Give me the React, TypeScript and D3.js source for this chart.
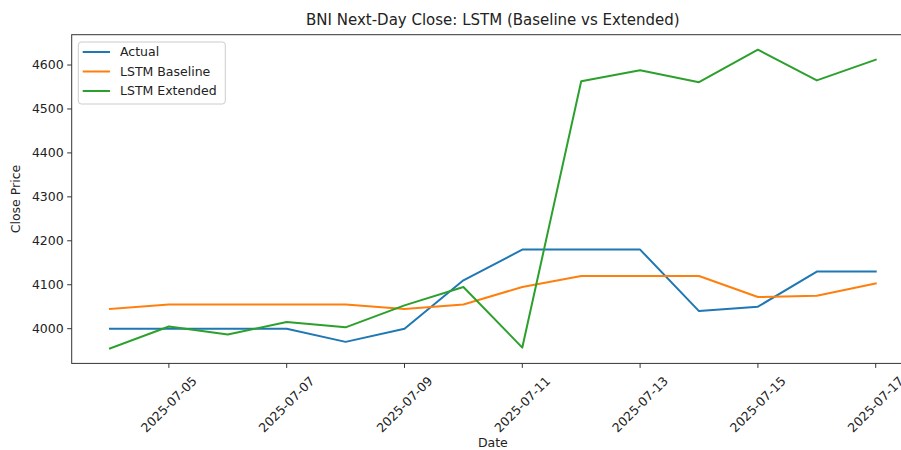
import React from "react";
import * as d3 from "d3";

const dates = [
  "2025-07-04", "2025-07-05", "2025-07-06", "2025-07-07", "2025-07-08", "2025-07-09", "2025-07-10",
  "2025-07-11", "2025-07-12", "2025-07-13", "2025-07-14", "2025-07-15", "2025-07-16", "2025-07-17",
];
const actual = [4000, 4000, 4000, 4000, 3970, 4000, 4110, 4180, 4180, 4180, 4040, 4050, 4130, 4130];
const baseline = [4045, 4055, 4055, 4055, 4055, 4045, 4055, 4095, 4120, 4120, 4120, 4072, 4075, 4103];
const extended = [3955, 4005, 3987, 4015, 4003, 4053, 4095, 3957, 4563, 4588, 4561, 4635, 4565, 4612];
const seriesNames = ["Actual", "LSTM Baseline", "LSTM Extended"];
const seriesColors = ["#1f77b4", "#ff7f0e", "#2ca02c"];
const yTicks = [4000, 4100, 4200, 4300, 4400, 4500, 4600];
const xTickLabels = ["2025-07-05", "2025-07-07", "2025-07-09", "2025-07-11", "2025-07-13", "2025-07-15", "2025-07-17"];

const W = 901;
const H = 450;
const FONT = "DejaVu Sans, sans-serif";
const FS = 12.5;

export default function App() {
  const parse = d3.timeParse("%Y-%m-%d");
  const xs = dates.map((d) => parse(d) as Date);
  const x0 = xs[0].getTime();
  const x1 = xs[xs.length - 1].getTime();
  const xm = (x1 - x0) * 0.05;
  const left = 71.7;
  const right = 914;
  const top = 34.7;
  const bottom = 363.4;
  const x = d3.scaleTime().domain([new Date(x0 - xm), new Date(x1 + xm)]).range([left, right]);
  const all = [...actual, ...baseline, ...extended];
  const mn = d3.min(all) as number;
  const mx = d3.max(all) as number;
  const ym = (mx - mn) * 0.05;
  const y = d3.scaleLinear().domain([mn - ym, mx + ym]).range([bottom, top]);
  const series = [actual, baseline, extended];
  const line = d3
    .line<number>()
    .x((_, i) => x(xs[i]))
    .y((v) => y(v));

  return (
    <svg width={W} height={H} style={{ position: "absolute", left: 0, top: 0, background: "#fff" }} fontFamily={FONT}>
      <rect x={0} y={0} width={W} height={H} fill="#fff" />
      <text x={(left + right) / 2} y={25} textAnchor="middle" fontSize={15} fill="#222">
        BNI Next-Day Close: LSTM (Baseline vs Extended)
      </text>
      {series.map((s, i) => (
        <path key={i} d={line(s) || ""} fill="none" stroke={seriesColors[i]} strokeWidth={2} strokeLinejoin="round" strokeLinecap="square" />
      ))}
      <rect x={left} y={top} width={right - left} height={bottom - top} fill="none" stroke="#333" strokeWidth={1} />
      {yTicks.map((t) => (
        <g key={t}>
          <line x1={left - 4.5} x2={left} y1={y(t)} y2={y(t)} stroke="#333" strokeWidth={1} />
          <text x={left - 8} y={y(t)} dy="0.35em" textAnchor="end" fontSize={FS} fill="#222">
            {t}
          </text>
        </g>
      ))}
      {xTickLabels.map((lbl) => {
        const d = parse(lbl) as Date;
        const px = x(d);
        return (
          <g key={lbl}>
            <line x1={px} x2={px} y1={bottom} y2={bottom + 4.5} stroke="#333" strokeWidth={1} />
            <text
              transform={`translate(${px},${bottom + 41}) rotate(-45)`}
              textAnchor="middle"
              dy="0.35em"
              fontSize={FS}
              fill="#222"
            >
              {lbl}
            </text>
          </g>
        );
      })}
      <text x={(left + right) / 2} y={447} textAnchor="middle" fontSize={FS} fill="#222">
        Date
      </text>
      <text transform={`translate(20,${(top + bottom) / 2}) rotate(-90)`} textAnchor="middle" fontSize={FS} fill="#222">
        Close Price
      </text>
      <g>
        <rect x={78.3} y={42} width={147} height={62} rx={3} fill="#fff" fillOpacity={0.8} stroke="#ccc" strokeWidth={1} />
        {seriesNames.map((n, i) => (
          <g key={n}>
            <line x1={82.7} x2={110} y1={52 + i * 19.5} y2={52 + i * 19.5} stroke={seriesColors[i]} strokeWidth={2} />
            <text x={120} y={52 + i * 19.5} dy="0.35em" fontSize={FS} fill="#222">
              {n}
            </text>
          </g>
        ))}
      </g>
    </svg>
  );
}
